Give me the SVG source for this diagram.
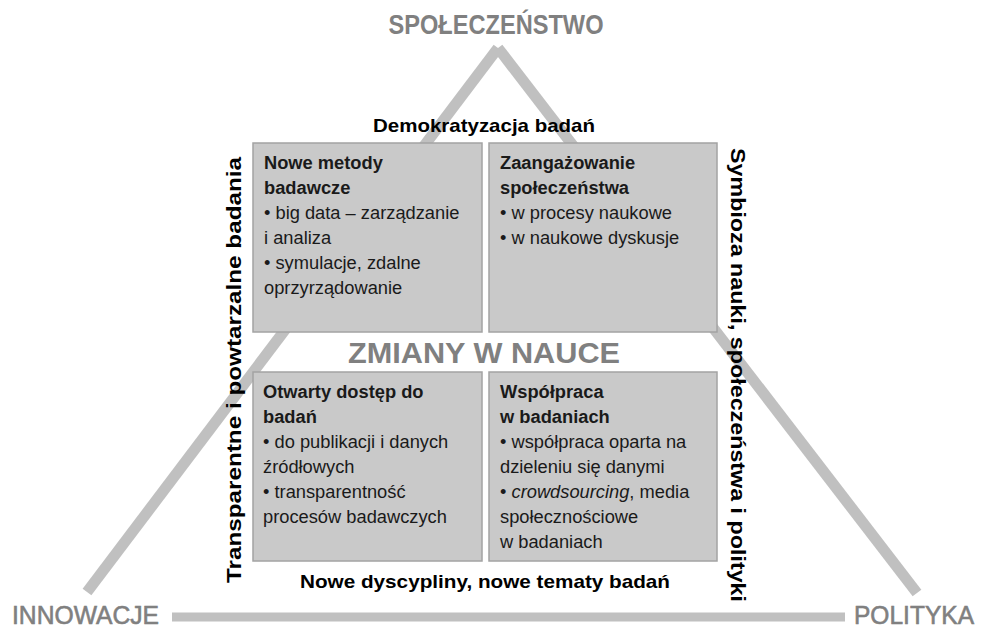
<svg xmlns="http://www.w3.org/2000/svg" width="981" height="629" viewBox="0 0 981 629">
<style>
.tri{stroke:#c0c0c0;stroke-width:11;fill:none;stroke-linecap:butt}
.box{fill:#c9c9c9;stroke:#a3a3a3;stroke-width:1.5}
.t{font-family:"Liberation Sans",Arial,sans-serif;font-size:18.3px;fill:#1a1a1a}
.h{font-weight:bold}
.lab{font-family:"Liberation Sans",Arial,sans-serif;font-weight:bold;fill:#000}
.big{font-family:"Liberation Sans",Arial,sans-serif;fill:#808080}
.reg{stroke:#808080;stroke-width:0.6}
</style>
<rect width="981" height="629" fill="#ffffff"/>
<g id="connectors">
<line class="tri" x1="498" y1="48" x2="87" y2="592"/>
<line class="tri" x1="498" y1="48" x2="917" y2="593"/>
<line class="tri" x1="172" y1="617" x2="845" y2="617" style="stroke-width:9"/>
</g>
<g id="spoleczenstwo"><text class="big" x="496" y="34" font-size="27" font-weight="bold" text-anchor="middle" textLength="215" lengthAdjust="spacingAndGlyphs">SPOŁECZEŃSTWO</text></g>
<g id="innowacje"><text class="big reg" x="12" y="624" font-size="26" textLength="147" lengthAdjust="spacingAndGlyphs">INNOWACJE</text></g>
<g id="polityka"><text class="big reg" x="854" y="624" font-size="26" textLength="120" lengthAdjust="spacingAndGlyphs">POLITYKA</text></g>
<g id="demokratyzacja"><text class="lab" x="484" y="132" font-size="19" text-anchor="middle" textLength="222" lengthAdjust="spacingAndGlyphs">Demokratyzacja badań</text></g>
<g id="nowe-dyscypliny"><text class="lab" x="485" y="588" font-size="19" text-anchor="middle" textLength="370" lengthAdjust="spacingAndGlyphs">Nowe dyscypliny, nowe tematy badań</text></g>
<g id="transparentne"><text class="lab" transform="translate(241,370) rotate(-90)" font-size="20" text-anchor="middle" textLength="426" lengthAdjust="spacingAndGlyphs">Transparentne i powtarzalne badania</text></g>
<g id="symbioza"><text class="lab" transform="translate(731,375) rotate(90)" font-size="20" text-anchor="middle" textLength="454" lengthAdjust="spacingAndGlyphs">Symbioza nauki, społeczeństwa i polityki</text></g>
<g id="box-nowe-metody">
<rect class="box" x="253" y="143" width="229" height="189"/>
<text class="t"><tspan class="h" x="264" y="169">Nowe metody</tspan><tspan class="h" x="264" y="194">badawcze</tspan><tspan x="264" y="219">• big data – zarządzanie</tspan><tspan x="264" y="244">i analiza</tspan><tspan x="264" y="269">• symulacje, zdalne</tspan><tspan x="264" y="294">oprzyrządowanie</tspan></text>
</g>
<g id="box-zaangazowanie">
<rect class="box" x="489" y="143" width="228" height="189"/>
<text class="t"><tspan class="h" x="500" y="169">Zaangażowanie</tspan><tspan class="h" x="500" y="194">społeczeństwa</tspan><tspan x="500" y="219">• w procesy naukowe</tspan><tspan x="500" y="244">• w naukowe dyskusje</tspan></text>
</g>
<g id="zmiany"><text class="big" x="484" y="363" font-size="29" font-weight="bold" text-anchor="middle" textLength="272" lengthAdjust="spacingAndGlyphs">ZMIANY W NAUCE</text></g>
<g id="box-otwarty-dostep">
<rect class="box" x="253" y="372" width="229" height="189"/>
<text class="t"><tspan class="h" x="263" y="398">Otwarty dostęp do</tspan><tspan class="h" x="263" y="423">badań</tspan><tspan x="263" y="448">• do publikacji i danych</tspan><tspan x="263" y="473">źródłowych</tspan><tspan x="263" y="498">• transparentność</tspan><tspan x="263" y="523">procesów badawczych</tspan></text>
</g>
<g id="box-wspolpraca">
<rect class="box" x="489" y="372" width="228" height="189"/>
<text class="t"><tspan class="h" x="500" y="398">Współpraca</tspan><tspan class="h" x="500" y="423">w badaniach</tspan><tspan x="500" y="448">• współpraca oparta na</tspan><tspan x="500" y="473">dzieleniu się danymi</tspan><tspan x="500" y="498">• <tspan font-style="italic">crowdsourcing</tspan>, media</tspan><tspan x="500" y="523">społecznościowe</tspan><tspan x="500" y="548">w badaniach</tspan></text>
</g>
</svg>
